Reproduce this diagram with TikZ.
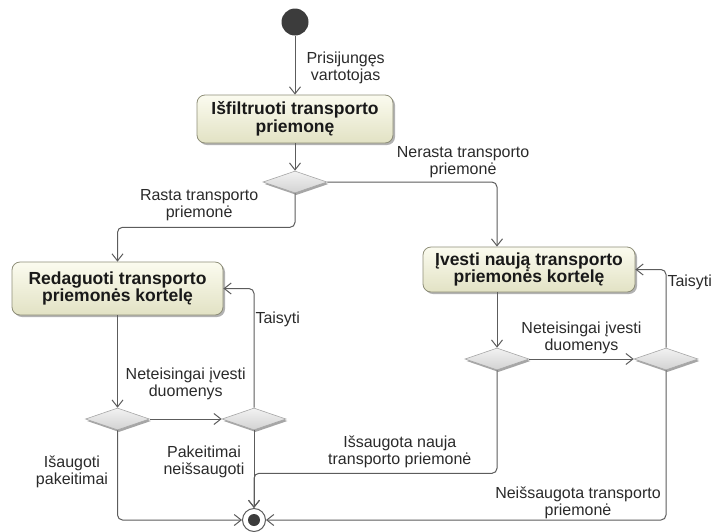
\documentclass[tikz,border=0pt]{standalone}
\usepackage{fontspec}
\setmainfont{Liberation Sans}
\usepackage{xcolor}
\usetikzlibrary{arrows.meta}
\usetikzlibrary{shapes.geometric}
\usetikzlibrary{shadows}

\definecolor{linegray}{HTML}{5C5C5C}
\definecolor{acttop}{HTML}{FBFBEF}
\definecolor{actbot}{HTML}{E2E2C4}
\definecolor{actborder}{HTML}{8E8E78}
\definecolor{diatop}{HTML}{F2F2F2}
\definecolor{diabot}{HTML}{D2D2D2}
\definecolor{startcol}{HTML}{3C3C3C}
\definecolor{lblcol}{HTML}{2A2A2A}

\begin{document}
\begin{tikzpicture}[x=1pt,y=-1pt,
    >={Straight Barb[length=7pt,width=11pt]},
    act/.style={rectangle, rounded corners=8pt, draw=actborder, line width=0.8pt,
      top color=acttop, bottom color=actbot, align=center, inner sep=0pt,
      font=\fontsize{17.5}{17.5}\selectfont\bfseries, text=black!90,
      drop shadow={shadow xshift=2pt, shadow yshift=-2pt, opacity=.3, fill=black}},
    decision/.style={diamond, minimum width=64pt, minimum height=22pt, inner sep=0pt,
      draw=gray!70, line width=0.6pt, top color=diatop, bottom color=diabot,
      drop shadow={shadow xshift=1.5pt, shadow yshift=-2pt, opacity=.35, fill=black}},
    startnode/.style={circle, fill=startcol, minimum size=27pt, inner sep=0pt},
    endnode/.style={circle, draw=linegray, line width=1pt, fill=white, minimum size=23pt,
      inner sep=0pt, path picture={\fill[startcol] (path picture bounding box.center) circle (6pt);}},
    flow/.style={->, draw=linegray, line width=1pt, rounded corners=5pt},
    lbl/.style={font=\fontsize{16}{17}\selectfont, text=lblcol, align=center, inner sep=1pt}]
  \useasboundingbox (0,0) rectangle (717,531);

  % nodes
  \node[startnode] (s) at (295,22) {};
  \node[act, minimum width=196pt, minimum height=48pt] (a1) at (295,119) {Išfiltruoti transporto\\priemonę};
  \node[decision] (d1) at (295,182) {};
  \node[act, minimum width=211pt, minimum height=53pt] (a2) at (117.5,288.5) {Redaguoti transporto\\priemonės kortelę};
  \node[act, minimum width=212pt, minimum height=45pt] (a3) at (529,269.5) {Įvesti naują transporto\\priemonės kortelę};
  \node[decision] (d2) at (117.5,419) {};
  \node[decision] (d3) at (254,419) {};
  \node[decision] (d4) at (497,359) {};
  \node[decision] (d5) at (666,359) {};
  \node[endnode] (f) at (254,520) {};

  % flows
  \draw[flow] (s) -- node[lbl, right, xshift=10pt, yshift=-3pt] {Prisijungęs\\vartotojas} (a1);
  \draw[flow] (a1) -- (d1);
  \draw[flow] (d1.south) -- ++(0,34) -| node[lbl, above=5pt, pos=.27] {Rasta transporto\\priemonė} (a2.north);
  \draw[flow] (d1.east) -| node[lbl, above=3pt, pos=.4] {Nerasta transporto\\priemonė} ([xshift=-32pt]a3.north);
  \draw[flow] (a2) -- (d2);
  \draw[flow] (d2) -- node[lbl, above=18pt] {Neteisingai įvesti\\duomenys} (d3);
  \draw[flow] (d3) |- node[lbl, right, pos=.37] {Taisyti} (a2);
  \draw[flow] (d3) -- node[lbl, left=8pt, pos=.4] {Pakeitimai\\neišsaugoti} (f);
  \draw[flow] (d2) |- node[lbl, left=8pt, pos=.23] {Išaugoti\\pakeitimai} (f);
  \draw[flow] ([xshift=-32pt]a3.south) -- (d4);
  \draw[flow] (d4) -- node[lbl, above=4pt] {Neteisingai įvesti\\duomenys} (d5);
  \draw[flow] (d5) |- node[lbl, right, pos=.42] {Taisyti} (a3);
  \draw[flow] (d4.south) -- ++(0,103) -| node[lbl, above=4pt, pos=.2] {Išsaugota nauja\\transporto priemonė} (f.north);
  \draw[flow] (d5) |- node[lbl, above, pos=.61] {Neišsaugota transporto\\priemonė} (f);
\end{tikzpicture}
\end{document}
